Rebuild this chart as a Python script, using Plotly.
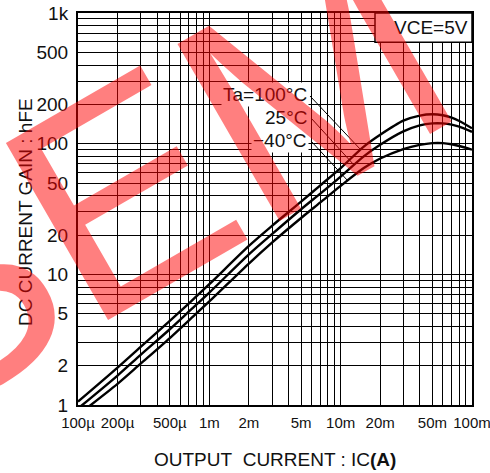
import plotly.graph_objects as go

# ---- data ----
current_a = [1e-4, 2e-4, 3e-4, 5e-4, 7e-4, 1e-3, 2e-3, 3e-3, 5e-3, 7e-3, 1e-2,
             1.5e-2, 2e-2, 3e-2, 4e-2, 5e-2, 6e-2, 7e-2, 8e-2, 1e-1]
hfe_100c = [1.06, 1.93, 2.78, 4.4, 6.0, 8.4, 16.5, 23.5, 36, 48, 65,
            95, 117, 150, 164, 168, 165, 158, 149, 131]
hfe_25c = [0.94, 1.68, 2.42, 3.8, 5.2, 7.25, 14.2, 20.3, 31.5, 41.5, 56,
           80, 98, 124, 138, 143, 143, 140, 135, 123]
hfe_m40c = [0.84, 1.45, 2.07, 3.25, 4.45, 6.2, 12.1, 17.5, 27, 35.5, 47.5,
            65, 77, 91, 98, 101, 101, 99, 96, 90]

x_label_vals = [1e-4, 2e-4, 5e-4, 1e-3, 2e-3, 5e-3, 1e-2, 2e-2, 5e-2, 1e-1]
x_label_text = ["100µ", "200µ", "500µ", "1m", "2m", "5m", "10m", "20m", "50m", "100m"]
y_label_vals = [1, 2, 5, 10, 20, 50, 100, 200, 500, 1000]
y_label_text = ["1", "2", "5", "10", "20", "50", "100", "200", "500", "1k"]

# grid at every 1..9 multiple
x_grid = [k * 10 ** e for e in (-4, -3, -2) for k in range(1, 10)] + [1e-1]
y_grid = [k * 10 ** e for e in (0, 1, 2) for k in range(1, 10)] + [1000]


def lab(v, vals, texts):
    for vv, t in zip(vals, texts):
        if abs(vv - v) / v < 1e-6:
            return t
    return ""


x_text = [lab(v, x_label_vals, x_label_text) for v in x_grid]
y_text = [lab(v, y_label_vals, y_label_text) for v in y_grid]

FONT = "Liberation Sans, Arial, sans-serif"
TXT = "#111111"

fig = go.Figure()
for ys in (hfe_100c, hfe_25c, hfe_m40c):
    fig.add_trace(go.Scatter(x=current_a, y=ys, mode="lines",
                             line=dict(color="black", width=2.4, shape="spline", smoothing=0.8),
                             showlegend=False, hoverinfo="skip"))

fig.update_layout(
    width=490, height=473,
    margin=dict(l=78, r=18, t=13, b=68, autoexpand=False),
    paper_bgcolor="white", plot_bgcolor="white",
    font=dict(family=FONT, color=TXT, size=19),
    xaxis=dict(type="log", range=[-4, -1], tickmode="array", tickvals=x_grid, ticktext=x_text,
               showgrid=True, gridcolor="black", gridwidth=1.2, automargin=False, tickangle=0,
               showline=True, linecolor="black", linewidth=2, mirror=True,
               ticks="", zeroline=False, ticklabelstandoff=3, ticklabeloverflow="allow",
               tickfont=dict(family=FONT, size=15, color=TXT)),
    yaxis=dict(type="log", range=[0, 3], tickmode="array", tickvals=y_grid, ticktext=y_text,
               showgrid=True, gridcolor="black", gridwidth=1.2, automargin=False,
               showline=True, linecolor="black", linewidth=2, mirror=True,
               ticks="", zeroline=False, ticklabelstandoff=4, ticklabeloverflow="allow",
               tickfont=dict(family=FONT, size=19, color=TXT)),
)

W, H = 394.0, 392.0


def px(x):
    return (x - 78) / W


def py(y):
    return (405 - y) / H


shapes = [
    dict(type="rect", xref="paper", yref="paper", x0=px(375), x1=1, y0=py(42.3), y1=1,
         fillcolor="white", line=dict(color="black", width=1.5), layer="above"),
    dict(type="line", xref="paper", yref="paper", x0=px(310), y0=py(96), x1=px(361), y1=py(150),
         line=dict(color="black", width=1)),
    dict(type="line", xref="paper", yref="paper", x0=px(311), y0=py(118), x1=px(354), y1=py(165),
         line=dict(color="black", width=1)),
    dict(type="line", xref="paper", yref="paper", x0=px(311), y0=py(141), x1=px(348), y1=py(181),
         line=dict(color="black", width=1)),
]
fig.update_layout(shapes=shapes)

ann = [
    dict(text="OUTPUT\u00a0\u00a0CURRENT : IC<b>(A)</b>", x=px(275), y=py(459), xref="paper", yref="paper",
         showarrow=False, xanchor="center", yanchor="middle", font=dict(size=19)),
    dict(text="DC CURRENT GAIN : hFE", x=px(25), y=py(212), xref="paper", yref="paper",
         showarrow=False, xanchor="center", yanchor="middle", textangle=-90, font=dict(size=19)),
    dict(text="VCE=5V", x=px(470), y=py(28), xref="paper", yref="paper",
         showarrow=False, xanchor="right", yanchor="middle", font=dict(size=19)),
    dict(text="Ta=100°C", x=px(309), y=py(95), xref="paper", yref="paper", bgcolor="white",
         showarrow=False, xanchor="right", yanchor="middle", font=dict(size=19), borderpad=1),
    dict(text="25°C", x=px(309), y=py(117.5), xref="paper", yref="paper", bgcolor="white",
         showarrow=False, xanchor="right", yanchor="middle", font=dict(size=19), borderpad=1),
    dict(text="\u221240°C", x=px(309), y=py(140.5), xref="paper", yref="paper", bgcolor="white",
         showarrow=False, xanchor="right", yanchor="middle", font=dict(size=19), borderpad=1),
    # watermark overlay
    dict(text="SEM", x=px(142.8), y=py(181.4), xref="paper", yref="paper",
         showarrow=False, xanchor="center", yanchor="middle", textangle=-30,
         font=dict(size=297, family=FONT, color="rgba(255,0,0,0.5)")),
]
fig.update_layout(annotations=ann)

fig.write_html("out.html", config={"displayModeBar": False},
               post_script="document.body.style.margin='0';document.body.style.overflow='hidden';")
